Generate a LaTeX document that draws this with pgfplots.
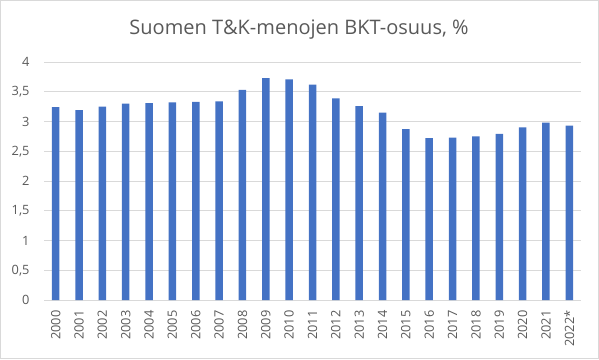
\documentclass[border=0pt]{standalone}
\usepackage{pgfplots}
\pgfplotsset{compat=1.18}
\usepackage{fontspec}
\setmainfont{Open Sans}
\definecolor{barblue}{RGB}{68,114,196}
\definecolor{txtgray}{RGB}{89,89,89}
\definecolor{gridgray}{RGB}{217,217,217}
\pgfplotstableread{
x val
0 3.24
1 3.19
2 3.25
3 3.30
4 3.31
5 3.32
6 3.33
7 3.34
8 3.53
9 3.73
10 3.71
11 3.62
12 3.39
13 3.26
14 3.15
15 2.87
16 2.72
17 2.73
18 2.75
19 2.79
20 2.90
21 2.98
22 2.93
}\datatable
\begin{document}
\begin{tikzpicture}[x=1pt,y=1pt]
\draw[gridgray,line width=0.8pt] (0.4,0.4) rectangle (598.6,358.6);
\useasboundingbox (0,0) rectangle (599,359);
\node[txtgray,font=\fontsize{20}{24}\selectfont,anchor=base,inner sep=0pt] at (299,324) {Suomen T\&K-menojen BKT-osuus, \%};
\begin{axis}[
  at={(44pt,59pt)}, anchor=south west,
  width=537pt, height=238pt, scale only axis,
  xmin=-0.5, xmax=22.5, ymin=0, ymax=4,
  ybar, bar width=7.5pt,
  axis y line*=left, axis x line*=bottom,
  y axis line style={draw=none},
  x axis line style={gridgray, line width=0.8pt, -},
  ytick={0,0.5,1,1.5,2,2.5,3,3.5,4},
  yticklabels={0,{0,5},1,{1,5},2,{2,5},3,{3,5},4},
  xtick=data,
  xticklabels={2000,2001,2002,2003,2004,2005,2006,2007,2008,2009,2010,2011,2012,2013,2014,2015,2016,2017,2018,2019,2020,2021,2022*},
  ymajorgrids, grid style={gridgray, line width=0.8pt},
  major tick length=0pt,
  tick label style={txtgray, font=\fontsize{12.8}{14}\selectfont},
  yticklabel style={xshift=-11pt},
  xticklabel style={yshift=-7pt, rotate=90, anchor=east},
  /pgf/number format/assume math mode=true,
]
\addplot[fill=barblue, draw=none] table[x=x,y=val] {\datatable};
\end{axis}
\end{tikzpicture}
\end{document}
